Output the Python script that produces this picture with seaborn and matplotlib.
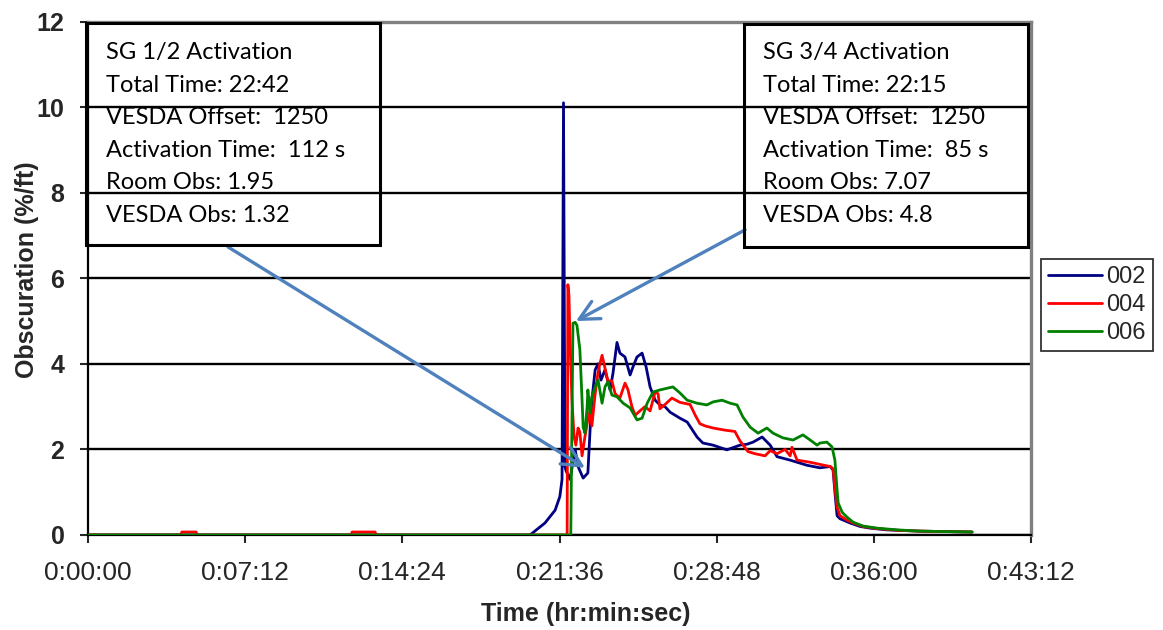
import numpy as np
import pandas as pd
import matplotlib
matplotlib.use("Agg")
import matplotlib.pyplot as plt
from matplotlib.ticker import FuncFormatter
from matplotlib.patches import Rectangle
import seaborn as sns

# ---- data: time in seconds, obscuration in %/ft ----
t_002 = [0, 1215, 1256, 1284, 1297, 1303, 1307, 1311, 1314, 1325, 1339, 1347, 1361, 1374,
         1380, 1385, 1394, 1402, 1410, 1421, 1435, 1443, 1454, 1462, 1476, 1490, 1498, 1509,
         1523, 1534, 1545, 1559, 1572, 1586, 1600, 1627, 1647, 1674, 1690, 1718, 1756, 1792,
         1811, 1828, 1853, 1875, 1894, 1930, 1976, 2012, 2040, 2048, 2053, 2059, 2067, 2095,
         2122, 2150, 2196, 2287, 2430]
v_002 = [0, 0, 0.28, 0.58, 0.9, 1.3, 10.1, 1.6, 1.5, 1.3, 2.0, 1.6, 1.33, 1.45,
         2.45, 3.15, 3.86, 4.0, 3.62, 3.86, 3.39, 3.78, 4.5, 4.25, 4.16, 3.74, 3.93, 4.16,
         4.25, 3.93, 3.46, 3.15, 3.04, 3.0, 2.87, 2.73, 2.64, 2.29, 2.15, 2.1, 1.99, 2.1,
         2.12, 2.17, 2.29, 2.1, 1.83, 1.75, 1.63, 1.57, 1.6, 1.52, 1.0, 0.45, 0.38, 0.28,
         0.2, 0.16, 0.12, 0.09, 0.07]

t_004 = [0, 255, 258, 297, 300, 723, 726, 789, 792, 1317, 1319, 1322, 1325, 1330, 1336,
         1341, 1347, 1352, 1358, 1366, 1374, 1380, 1385, 1394, 1402, 1407, 1413, 1421, 1429,
         1440, 1449, 1462, 1476, 1484, 1495, 1504, 1517, 1531, 1545, 1559, 1567, 1572, 1586,
         1605, 1627, 1655, 1669, 1682, 1696, 1718, 1751, 1778, 1792, 1814, 1833, 1861, 1875,
         1894, 1916, 1930, 1935, 1949, 1985, 2012, 2040, 2048, 2053, 2059, 2067, 2086, 2103,
         2130, 2169, 2224, 2287, 2430]
v_004 = [0, 0, 0.07, 0.07, 0, 0, 0.07, 0.07, 0, 0, 5.85, 5.6, 4.5, 3.2, 2.3,
         2.1, 2.5, 2.4, 1.85, 2.3, 2.7, 2.9, 2.55, 3.3, 3.8, 4.0, 4.2, 3.9, 3.6,
         3.6, 3.3, 3.2, 3.55, 3.4, 3.0, 2.8, 2.9, 3.0, 2.9, 3.35, 3.3, 2.95, 3.05,
         3.2, 3.1, 3.05, 2.8, 2.6, 2.55, 2.5, 2.45, 2.42, 2.2, 1.95, 1.9, 1.85, 1.97,
         1.9, 2.0, 1.85, 2.05, 1.75, 1.7, 1.65, 1.6, 1.55, 1.1, 0.65, 0.45, 0.35, 0.28,
         0.2, 0.15, 0.11, 0.09, 0.07]

t_006 = [0, 1327, 1333, 1339, 1344, 1352, 1358, 1361, 1366, 1372, 1374, 1380, 1385, 1394,
         1402, 1413, 1421, 1429, 1440, 1454, 1471, 1490, 1509, 1523, 1537, 1553, 1572, 1592,
         1608, 1627, 1647, 1674, 1701, 1718, 1743, 1765, 1784, 1800, 1820, 1842, 1866, 1883,
         1910, 1938, 1965, 1985, 2004, 2012, 2031, 2045, 2053, 2059, 2062, 2073, 2086, 2103,
         2130, 2169, 2224, 2287, 2430]
v_006 = [0, 0, 4.95, 4.97, 4.9, 4.33, 3.15, 2.52, 2.38, 3.0, 3.39, 2.85, 3.23, 3.46,
         3.62, 3.08, 3.46, 3.58, 3.27, 3.23, 3.08, 2.97, 2.69, 2.73, 3.08, 3.34, 3.39, 3.43,
         3.46, 3.32, 3.15, 3.08, 3.04, 3.11, 3.15, 3.08, 3.04, 2.76, 2.52, 2.38, 2.5, 2.38,
         2.27, 2.22, 2.34, 2.22, 2.1, 2.15, 2.17, 2.06, 1.75, 1.05, 0.75, 0.53, 0.42, 0.3,
         0.21, 0.16, 0.12, 0.09, 0.07]

series_names = ["002", "004", "006"]
series_colors = ["#000080", "#FF0000", "#008000"]

box_left = ["SG 1/2 Activation", "Total Time: 22:42", "VESDA Offset:  1250",
            "Activation Time:  112 s", "Room Obs: 1.95", "VESDA Obs: 1.32"]
box_right = ["SG 3/4 Activation", "Total Time: 22:15", "VESDA Offset:  1250",
             "Activation Time:  85 s", "Room Obs: 7.07", "VESDA Obs: 4.8"]

x_ticks = np.arange(0, 2593, 432)
y_ticks = np.arange(0, 13, 2)

df = pd.concat([
    pd.DataFrame({"t": t_002, "v": v_002, "series": "002"}),
    pd.DataFrame({"t": t_004, "v": v_004, "series": "004"}),
    pd.DataFrame({"t": t_006, "v": v_006, "series": "006"}),
], ignore_index=True)

sns.set_style("white")
plt.rcParams["font.family"] = ["Liberation Sans", "DejaVu Sans"]

W, H = 1163, 630
fig = plt.figure(figsize=(W / 100, H / 100), dpi=100)
ax = fig.add_axes([88 / W, (H - 535) / H, (1031 - 88) / W, (535 - 21.5) / H])

sns.lineplot(data=df, x="t", y="v", hue="series", hue_order=series_names,
             palette=series_colors, estimator=None, sort=False, linewidth=2.0,
             ax=ax, legend=False, zorder=3)

ax.set_xlim(0, 2592)
ax.set_ylim(0, 12)
ax.set_xticks(x_ticks)
ax.set_yticks(y_ticks)


def hms(s, pos=None):
    s = int(round(s))
    return f"{s // 3600}:{(s % 3600) // 60:02d}:{s % 60:02d}"


ax.xaxis.set_major_formatter(FuncFormatter(hms))
ax.yaxis.grid(True, color="black", linewidth=1.7)
ax.set_axisbelow(True)

for side in ("left", "bottom"):
    ax.spines[side].set_color("black")
    ax.spines[side].set_linewidth(1.6)
for side in ("top", "right"):
    ax.spines[side].set_color("#808080")
    ax.spines[side].set_linewidth(2.4)

ax.tick_params(axis="x", direction="out", length=6, width=1.5, pad=13,
               labelsize=19, bottom=True)
ax.tick_params(axis="y", direction="out", length=6, width=1.5, pad=11,
               labelsize=18, left=True)
for lab in ax.get_yticklabels():
    lab.set_fontweight("bold")

ax.set_xlabel("Time (hr:min:sec)", fontsize=18, fontweight="bold")
ax.set_ylabel("Obscuration (%/ft)", fontsize=18, fontweight="bold")
ax.xaxis.set_label_coords(0.528, -0.131)
ax.yaxis.set_label_coords(-0.052, 0.516)

# legend outside the plot on the right
handles = [plt.Line2D([], [], color=c, lw=2) for c in series_colors]
leg = ax.legend(handles, series_names, loc="center left",
                bbox_to_anchor=(1041 / W, (H - 305) / H), bbox_transform=fig.transFigure,
                fontsize=17, frameon=True, fancybox=False, edgecolor="black",
                handlelength=2.3, handletextpad=0.15, labelspacing=0.25,
                borderpad=0.3, borderaxespad=0)
leg.get_frame().set_linewidth(1.3)


# annotation boxes (outlined, transparent)
def text_box(x0, y0, x1, y1, tx, lines):
    fig.patches.append(Rectangle((x0 / W, (H - y1) / H), (x1 - x0) / W, (y1 - y0) / H,
                                 transform=fig.transFigure, fill=False,
                                 edgecolor="black", linewidth=2.2, zorder=5))
    for i, line in enumerate(lines):
        fig.text(tx / W, (H - (53 + 32.4 * i)) / H, line, fontsize=17,
                 family=["Lato", "DejaVu Sans"], va="center", ha="left", color="black")


text_box(86, 23, 380, 245, 106, box_left)
text_box(744, 24, 1028, 247, 763, box_right)

arrow_kw = dict(arrowstyle="->,head_length=0.7,head_width=0.35", color="#4F81BD",
                lw=2.4, mutation_scale=20, shrinkA=0, shrinkB=0)
ax.annotate("", xy=(1366, 1.57), xytext=(385, 6.73), arrowprops=arrow_kw, zorder=6)
ax.annotate("", xy=(1341, 5.0), xytext=(1806, 7.13), arrowprops=arrow_kw, zorder=6)

fig.savefig("out.png", dpi=100)
